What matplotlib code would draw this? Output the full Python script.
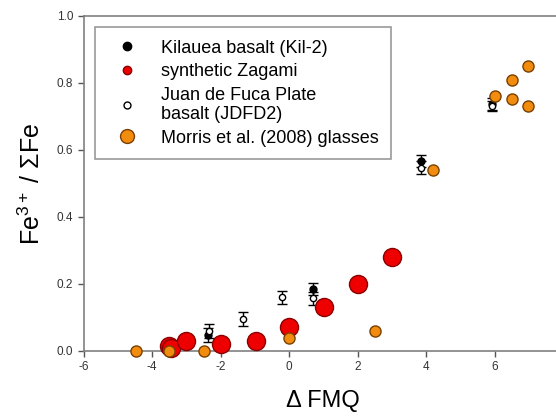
import matplotlib.pyplot as plt
from matplotlib.lines import Line2D

plt.rcParams['font.family'] = ['Liberation Sans', 'DejaVu Sans']
plt.rcParams['mathtext.fontset'] = 'custom'
plt.rcParams['mathtext.rm'] = 'Liberation Sans'
plt.rcParams['mathtext.it'] = 'Liberation Sans'
plt.rcParams['axes.unicode_minus'] = False

# Kilauea basalt (Kil-2)
kil_x = [-2.36, 0.71, 3.85, 5.92]
kil_y = [0.048, 0.184, 0.567, 0.738]
kil_err = [0.02, 0.018, 0.018, 0.018]

# Juan de Fuca Plate basalt (JDFD2)
jdf_x = [-2.33, -1.33, -0.21, 0.71, 3.85, 5.92]
jdf_y = [0.060, 0.095, 0.160, 0.157, 0.547, 0.730]
jdf_err = [0.02, 0.02, 0.02, 0.02, 0.02, 0.015]

# synthetic Zagami
zag_x = [-3.5, -3.45, -3.0, -2.0, -0.96, 0.0, 1.02, 2.0, 3.0]
zag_y = [0.015, 0.008, 0.030, 0.020, 0.030, 0.072, 0.130, 0.200, 0.280]

# Morris et al. (2008) glasses
mor_x = [-4.47, -3.5, -2.48, 0.0, 2.51, 4.2, 6.01, 6.5, 6.99, 6.5, 6.99]
mor_y = [0.0, 0.0, 0.0, 0.04, 0.06, 0.54, 0.761, 0.809, 0.851, 0.751, 0.731]

fig = plt.figure(figsize=(5.56, 4.17), dpi=100)
ax = fig.add_axes([0.1502, 0.1583, 0.8624, 0.8034])

ax.errorbar(kil_x, kil_y, yerr=kil_err, fmt='o', color='black', ms=5,
            ecolor='black', elinewidth=1, capsize=3.5, capthick=1, zorder=3, clip_on=False)
ax.errorbar(jdf_x, jdf_y, yerr=jdf_err, fmt='o', mfc='white', mec='black', ms=4.5,
            ecolor='black', elinewidth=1, capsize=3.5, capthick=1, zorder=4, clip_on=False)
ax.plot(zag_x, zag_y, 'o', color='#ee0000', mec='#8b0000', mew=1, ms=13, zorder=5, clip_on=False)
ax.plot(mor_x, mor_y, 'o', color='#f28c0f', mec='#7a4000', mew=1, ms=8, zorder=6, clip_on=False)

ax.set_xlim(-6, 8)
ax.set_ylim(0, 1.0)
ax.set_xticks([-6, -4, -2, 0, 2, 4, 6])
ax.set_yticks([0.0, 0.2, 0.4, 0.6, 0.8, 1.0])
ax.set_yticklabels(['0.0', '0.2', '0.4', '0.6', '0.8', '1.0'])

for s in ['left', 'bottom', 'top']:
    ax.spines[s].set_color('#808080')
    ax.spines[s].set_linewidth(1.2)
ax.spines['right'].set_visible(False)
ax.tick_params(direction='out', length=4, width=1, color='#555555',
               labelsize=8.5, labelcolor='#333333')

ax.set_xlabel('\u0394 FMQ', fontsize=17, labelpad=12)
ax.set_ylabel(r'Fe$^{3+}$ / $\Sigma$Fe', fontsize=18, labelpad=8)

handles = [
    Line2D([], [], ls='', marker='o', color='black', ms=6),
    Line2D([], [], ls='', marker='o', color='#ee0000', mec='#8b0000', ms=6),
    Line2D([], [], ls='', marker='o', mfc='white', mec='black', ms=5),
    Line2D([], [], ls='', marker='o', color='#f28c0f', mec='#7a4000', ms=10),
]
labels = ['Kilauea basalt (Kil-2)', 'synthetic Zagami',
          'Juan de Fuca Plate\nbasalt (JDFD2)', 'Morris et al. (2008) glasses']
leg = ax.legend(handles, labels, loc='upper left', bbox_to_anchor=(0.024, 0.967),
                borderaxespad=0, fontsize=13, frameon=True, fancybox=False,
                edgecolor='#808080', handletextpad=0.85, labelspacing=0.36,
                borderpad=0.7, handlelength=2.1)
leg.get_frame().set_linewidth(1.2)

fig.savefig('out.png', dpi=100)
